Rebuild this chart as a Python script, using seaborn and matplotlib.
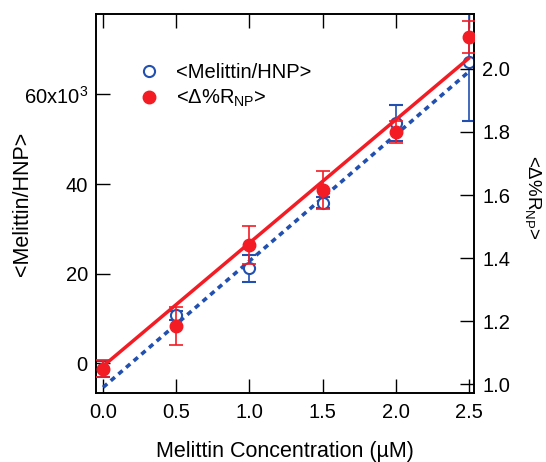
import seaborn as sns
import pandas as pd
import matplotlib.pyplot as plt
import numpy as np
from matplotlib.lines import Line2D

# Melittin concentration (uM)
conc = [0.0, 0.5, 1.0, 1.5, 2.0, 2.5]

# <Melittin/HNP> (left axis, x10^3)
hnp = [-1.3, 10.7, 21.2, 35.8, 53.6, 67.3]
hnpErr = [1.8, 1.0, 3.0, 1.2, 4.0, 13.2]

# <Delta%R_NP> (right axis)
dR = [1.048, 1.184, 1.441, 1.616, 1.800, 2.102]
dRErr = [0.027, 0.060, 0.060, 0.059, 0.035, 0.050]

# linear fits (intercept, slope)
hnpFit = (-5.4, 28.2)
dRFit = (1.057, 0.391)

red = '#f41c24'
blue = '#2150b0'

sns.set_style("ticks")
plt.rcParams['font.family'] = ['Liberation Sans', 'DejaVu Sans']
plt.rcParams['mathtext.fontset'] = 'custom'
plt.rcParams['mathtext.rm'] = 'Liberation Sans'
plt.rcParams['mathtext.it'] = 'Liberation Sans'
for k in ('text.color', 'axes.labelcolor', 'xtick.color', 'ytick.color'):
    plt.rcParams[k] = 'black'

fig = plt.figure(figsize=(5.46, 4.62), dpi=100)
ax = fig.add_axes([0.176, 0.149, 0.692, 0.821])
ax2 = ax.twinx()

xs = np.array([conc[0], conc[-1]])
fitHnp = pd.DataFrame({"x": xs, "y": hnpFit[0] + hnpFit[1] * xs})
fitDR = pd.DataFrame({"x": xs, "y": dRFit[0] + dRFit[1] * xs})

# blue: Melittin/HNP
sns.lineplot(data=fitHnp, x="x", y="y", ax=ax, color=blue, lw=2.6,
             linestyle=(0, (1.5, 1.3)))
ax.errorbar(conc, hnp, yerr=hnpErr, fmt='o', mfc='white', mec=blue, mew=1.5,
            ms=8, ecolor=blue, elinewidth=1.2, capsize=5, capthick=1.2, zorder=3)

# red: Delta%R
sns.lineplot(data=fitDR, x="x", y="y", ax=ax2, color=red, lw=2.5)
ax2.errorbar(conc, dR, yerr=dRErr, fmt='o', color=red, ms=9,
             ecolor=red, elinewidth=1.2, capsize=5, capthick=1.2, zorder=3)

ax.set_xlim(-0.048, 2.534)
ax.set_ylim(-6.7, 78.0)
ax2.set_ylim(0.971, 2.175)

ax.set_xticks([0.0, 0.5, 1.0, 1.5, 2.0, 2.5])
ax.set_xticklabels(['0.0', '0.5', '1.0', '1.5', '2.0', '2.5'])
ax.set_yticks([0, 20, 40, 60])
ax.set_yticklabels(['0', '20', '40', '60x10$^{3}$'])
ax2.set_yticks([1.0, 1.2, 1.4, 1.6, 1.8, 2.0])
ax2.set_yticklabels(['1.0', '1.2', '1.4', '1.6', '1.8', '2.0'])

ax.tick_params(axis='x', direction='in', length=10, width=1, top=True,
               labelsize=14.5, pad=7)
ax.tick_params(axis='y', direction='in', length=10, width=1, right=False,
               labelsize=14.5, pad=6)
ax2.tick_params(axis='y', direction='in', length=10, width=1,
                labelsize=14.5, pad=6)

for a in (ax, ax2):
    for s in a.spines.values():
        s.set_linewidth(1.2)
        s.set_color('black')

ax.set_xlabel("Melittin Concentration (\u00b5M)", fontsize=15.5)
ax.xaxis.set_label_coords(0.5, -0.125)
ax.set_ylabel("<Melittin/HNP>", fontsize=15.5)
ax.yaxis.set_label_coords(-0.167, 0.5)
ax2.set_ylabel("<\u0394%R$_{\\rm NP}$>", fontsize=13.5, rotation=-90, va='bottom')
ax2.yaxis.set_label_coords(1.13, 0.517)

handles = [
    Line2D([], [], marker='o', ls='none', mfc='white', mec=blue, mew=1.5, ms=8),
    Line2D([], [], marker='o', ls='none', color=red, ms=9),
]
ax.legend(handles, ["<Melittin/HNP>", "<\u0394%R$_{\\rm NP}$>"], loc='upper left',
          bbox_to_anchor=(0.108, 0.871), frameon=False, fontsize=14.5,
          handlelength=1.2, handletextpad=0.75, labelspacing=0.3,
          borderpad=0, borderaxespad=0)

fig.savefig("out.png", dpi=100)
